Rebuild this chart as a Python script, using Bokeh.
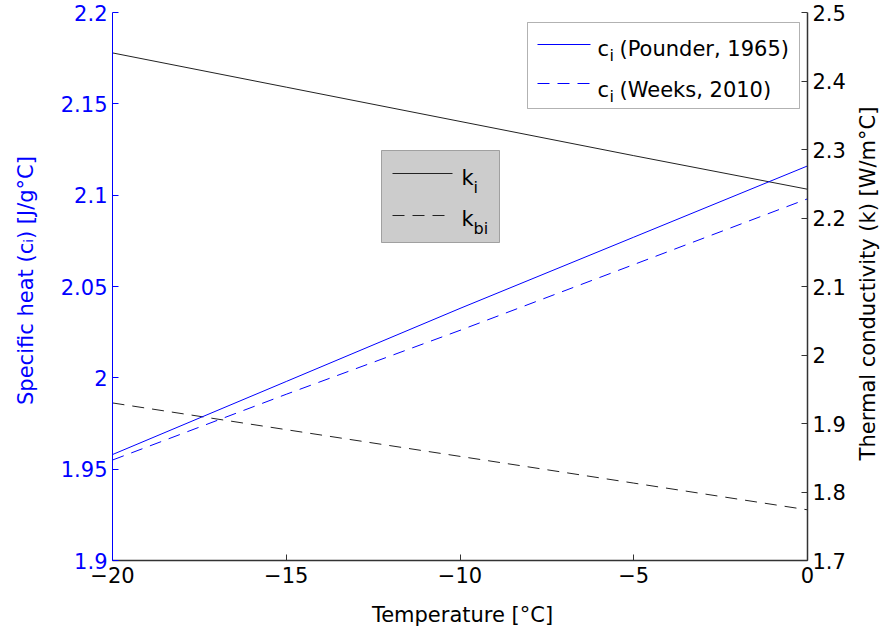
import math
from bokeh.plotting import figure
from bokeh.models import Range1d, LinearAxis, FixedTicker, BoxAnnotation, Label
from bokeh.embed import file_html
from bokeh.resources import INLINE

# ---- data ----
temperature = [-20, -15, -10, -5, 0]
ci_pounder = [1.958, 1.998, 2.038, 2.077, 2.116]
ci_weeks = [1.955, 1.991, 2.026, 2.062, 2.098]
k_i = [2.441, 2.391, 2.341, 2.291, 2.242]
k_bi = [1.930, 1.891, 1.852, 1.813, 1.774]

x_ticks = [-20, -15, -10, -5, 0]
x_tick_labels = ["\u221220", "\u221215", "\u221210", "\u22125", "0"]
c_ticks = [1.9, 1.95, 2.0, 2.05, 2.1, 2.15, 2.2]
c_tick_labels = ["1.9", "1.95", "2", "2.05", "2.1", "2.15", "2.2"]
k_ticks = [1.7, 1.8, 1.9, 2.0, 2.1, 2.2, 2.3, 2.4, 2.5]
k_tick_labels = ["1.7", "1.8", "1.9", "2", "2.1", "2.2", "2.3", "2.4", "2.5"]

FONT = "DejaVu Sans"
FS = "21px"
BLUE = "#0000ff"

W, H = 881, 632
# axes box in pixels, and the value ranges it spans
FX0, FX1, FY0, FY1 = 112, 807, 12, 560
XMIN, XMAX = -20, 0
CMIN, CMAX = 1.9, 2.2
KMIN, KMAX = 1.7, 2.5

SX = (FX1 - FX0) / (XMAX - XMIN)
SC = (FY1 - FY0) / (CMAX - CMIN)
SK = (FY1 - FY0) / (KMAX - KMIN)

# the plotting frame covers the whole canvas so that titles outside the
# axes box are not clipped; axes are pinned at the box edges
x_lo, x_hi = XMIN - FX0 / SX, XMAX + (W - FX1) / SX
c_lo, c_hi = CMIN - (H - FY1) / SC, CMAX + FY0 / SC
k_lo, k_hi = KMIN - (H - FY1) / SK, KMAX + FY0 / SK


def dx(px):
    return x_lo + px / SX


def dy(py):
    return c_hi - py / SC


p = figure(width=W, height=H, output_backend="svg", toolbar_location=None,
           x_range=Range1d(x_lo, x_hi), y_range=Range1d(c_lo, c_hi),
           min_border=0, x_axis_location=None, y_axis_location=None)
p.extra_y_ranges = {"k": Range1d(k_lo, k_hi)}
p.outline_line_color = None
p.xgrid.visible = False
p.ygrid.visible = False

xa = LinearAxis(ticker=FixedTicker(ticks=x_ticks), fixed_location=CMIN,
                bounds=(XMIN, XMAX))
xa.major_label_overrides = {t: l for t, l in zip(x_ticks, x_tick_labels)}
p.add_layout(xa, "below")

ya = LinearAxis(ticker=FixedTicker(ticks=c_ticks), fixed_location=XMIN,
                bounds=(CMIN, CMAX))
ya.major_label_overrides = {t: l for t, l in zip(c_ticks, c_tick_labels)}
p.add_layout(ya, "left")

ra = LinearAxis(y_range_name="k", ticker=FixedTicker(ticks=k_ticks),
                fixed_location=XMAX, bounds=(KMIN, KMAX))
ra.major_label_overrides = {t: l for t, l in zip(k_ticks, k_tick_labels)}
p.add_layout(ra, "right")

for ax in (xa, ya, ra):
    ax.major_tick_in = 6
    ax.major_tick_out = 0
    ax.minor_tick_line_color = None
    ax.major_label_text_font = FONT
    ax.major_label_text_font_size = FS
    ax.major_label_standoff = 5

xa.axis_line_color = "#333333"
xa.axis_line_width = 1.5
xa.major_tick_line_color = "#333333"
xa.major_label_text_color = "black"
xa.major_label_standoff = 6

ya.axis_line_color = BLUE
ya.major_tick_line_color = BLUE
ya.major_label_text_color = BLUE

ra.axis_line_color = "#333333"
ra.axis_line_width = 1.5
ra.major_tick_line_color = "#333333"
ra.major_label_text_color = "black"

# axis titles
p.add_layout(Label(x=dx(462), y=dy(614), text="Temperature [\u00b0C]",
                   text_align="center", text_baseline="middle",
                   text_font=FONT, text_font_size=FS, text_color="black"))
p.add_layout(Label(x=dx(25), y=dy(280), text="Specific heat (c\u1d62) [J/g\u00b0C]",
                   angle=math.pi / 2, text_align="center", text_baseline="middle",
                   text_font=FONT, text_font_size=FS, text_color=BLUE))
p.add_layout(Label(x=dx(867), y=dy(283), text="Thermal conductivity (k) [W/m\u00b0C]",
                   angle=math.pi / 2, text_align="center", text_baseline="middle",
                   text_font=FONT, text_font_size=FS, text_color="black"))

# data lines
DASH = "12 8"
p.line(temperature, k_i, y_range_name="k", line_color="#222222", line_width=1)
p.line(temperature, k_bi, y_range_name="k", line_color="#222222", line_width=1, line_dash=DASH)
p.line(temperature, ci_pounder, line_color=BLUE, line_width=1)
p.line(temperature, ci_weeks, line_color=BLUE, line_width=1, line_dash=DASH)

# legend 1 (c_i)
p.add_layout(BoxAnnotation(left=dx(527), right=dx(799), top=dy(22), bottom=dy(108),
                           fill_color="white", fill_alpha=1, line_color="black",
                           line_width=1, level="underlay"))
p.line([dx(537), dx(590)], [dy(44), dy(44)], line_color=BLUE, line_width=1)
p.line([dx(537), dx(590)], [dy(83), dy(83)], line_color=BLUE, line_width=1, line_dash=DASH)
for base, sub_base, rest in ((48, 55, "(Pounder, 1965)"), (89, 96, "(Weeks, 2010)")):
    p.add_layout(Label(x=dx(597), y=dy(base), text="c", text_baseline="alphabetic",
                       text_font=FONT, text_font_size=FS, text_color="black"))
    p.add_layout(Label(x=dx(609), y=dy(sub_base), text="i", text_baseline="alphabetic",
                       text_font=FONT, text_font_size="16px", text_color="black"))
    p.add_layout(Label(x=dx(619), y=dy(base), text=rest, text_baseline="alphabetic",
                       text_font=FONT, text_font_size=FS, text_color="black"))

# legend 2 (k)
p.add_layout(BoxAnnotation(left=dx(381), right=dx(499), top=dy(150), bottom=dy(242),
                           fill_color="#cccccc", fill_alpha=1, line_color="black",
                           line_width=1, level="underlay"))
p.line([dx(392), dx(452)], [dy(173), dy(173)], line_color="#222222", line_width=1)
p.line([dx(392), dx(452)], [dy(215), dy(215)], line_color="#222222", line_width=1, line_dash=DASH)
for base, sub_base, sub in ((177, 187, "i"), (218, 228, "bi")):
    p.add_layout(Label(x=dx(461), y=dy(base), text="k", text_baseline="alphabetic",
                       text_font=FONT, text_font_size=FS, text_color="black"))
    p.add_layout(Label(x=dx(473), y=dy(sub_base), text=sub, text_baseline="alphabetic",
                       text_font=FONT, text_font_size="16px", text_color="black"))

open("out.html", "w").write(file_html(p, INLINE))
